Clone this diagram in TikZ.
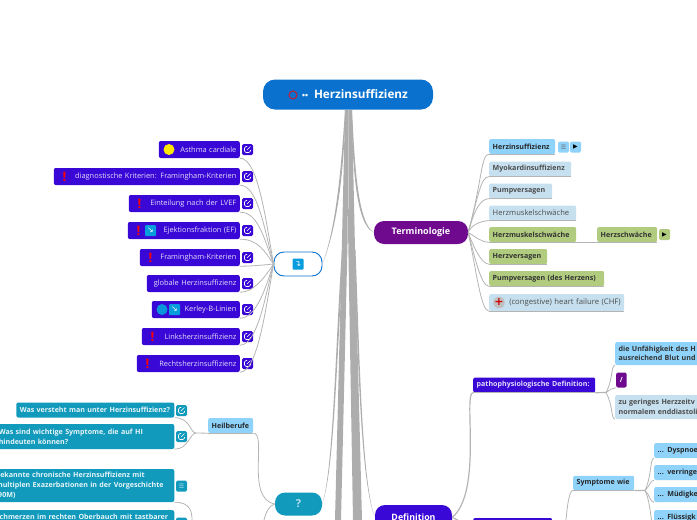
\documentclass[tikz,border=0pt]{standalone}
\usepackage{fontspec}
\setmainfont{Open Sans}
\newfontfamily\symfont{DejaVu Sans}
\definecolor{rootblue}{HTML}{0A72CE}
\definecolor{deepblue}{HTML}{3A08D6}
\definecolor{plum}{HTML}{6F0A8F}
\definecolor{teal}{HTML}{129ABD}
\definecolor{skyblue}{HTML}{8FD3FB}
\definecolor{paleblue}{HTML}{C7E0EF}
\definecolor{moss}{HTML}{B1CC7F}
\definecolor{twiggrey}{HTML}{B4B4B4}
\definecolor{trunkgrey}{HTML}{ADADAD}
\tikzset{
  head/.style={rounded corners=10pt,inner sep=0pt,minimum height=24pt,font=\fontsize{9}{11}\selectfont\bfseries,text=white},
  kid/.style={rounded corners=2pt,inner xsep=3.5pt,inner ysep=0pt,font=\fontsize{7.1}{9}\selectfont\bfseries,minimum height=15pt},
  blueleaf/.style={kid,fill=deepblue,text=white!85!deepblue,align=right,anchor=east,minimum height=17pt,font=\fontsize{7.4}{9}\selectfont},
  tealleaf/.style={kid,fill=teal,text=white!90!teal,align=left,anchor=east,font=\fontsize{7.1}{10}\selectfont\bfseries},
  skyleaf/.style={kid,fill=skyblue,text=black!85,align=left,anchor=west},
  paleleaf/.style={kid,fill=paleblue,text=black!70,align=left,anchor=west},
  greenleaf/.style={kid,fill=moss,text=black!80,align=left,anchor=west},
  alert/.style={text=red,inner sep=0pt,font=\fontsize{13}{13}\selectfont\bfseries},
  tile/.style={fill=rootblue!70!cyan,rounded corners=1pt,minimum size=11pt,inner sep=0pt,text=white,font=\symfont\fontsize{8}{8}\selectfont},
  badge/.style={rounded corners=1.5pt,minimum size=11pt,inner sep=0pt,font=\symfont\fontsize{6}{6}\selectfont},
  linkbox/.style={badge,fill=#1,path picture={
    \draw[white,line width=.6pt] ([shift={(3pt,-.5pt)}]path picture bounding box.center) -- ++(0pt,-2.5pt) -- ++(-6pt,0pt) -- ++(0pt,6pt) -- ++(2.5pt,0pt);
    \draw[white,line width=.6pt] ([shift={(-.5pt,-.5pt)}]path picture bounding box.center) -- ++(3.5pt,3.5pt);}},
  twig/.style={draw=twiggrey,line width=.8pt},
  trunk/.style={fill=trunkgrey}
}
\begin{document}
\begin{tikzpicture}[x=1pt,y=-1pt]
\useasboundingbox (0,0) rectangle (697,520);
\clip (0,0) rectangle (697,520);
% main nodes
\draw (348,94.5) node[head,fill=rootblue,text width=170pt,align=left,minimum height=30pt,rounded corners=12pt,font=\fontsize{11.7}{13}\selectfont\bfseries] (root) {\hspace*{39pt}\makebox[12pt][l]{\fontsize{8}{8}\selectfont ••}Herzinsuffizienz};
\draw (293,95) node[circle,draw=red!70!rootblue,line width=1.1pt,minimum size=8pt,inner sep=0pt] (rootRing) {};
\draw (298,264) node[head,fill=white,draw=rootblue,line width=.9pt,minimum width=48pt] (refs) {};
\draw (298,264) node[tile] (refsIcon) {↴};
\draw (421,232.5) node[head,fill=plum,minimum width=94pt,minimum height=23pt] (termi) {Terminologie};
\draw (298.5,504) node[head,fill=teal,minimum width=47pt,minimum height=23pt,text=white!70!teal,font=\fontsize{11}{12}\selectfont\bfseries] (quest) {?};
\draw (413.5,517.5) node[head,fill=deepblue,minimum width=77pt,minimum height=25pt,font=\fontsize{8.8}{10}\selectfont\bfseries] (defin) {Definition};
% trunk
\coordinate (trunkA) at (335,520);
\coordinate (trunkB) at (341,520);
\coordinate (trunkC) at (353,520);
\coordinate (trunkD) at (362,520);
\fill[trunk] (345,110) -- (342,240) -- (trunkA) -- (trunkB) -- (347.6,240) -- (348.4,110) -- cycle;
\fill[trunk] (348.4,110) -- (348.2,240) -- (trunkC) -- (trunkD) -- (354.8,240) -- (352,110) -- cycle;
\fill[trunk] (345.5,110) .. controls (344,170) and (338,225) .. (refs.east) .. controls (336.5,225) and (341,170) .. (345,110) -- cycle;
\fill[trunk] (351,110) .. controls (353,170) and (356,225) .. (termi.west) .. controls (358,222) and (355,170) .. (352,110) -- cycle;
\fill[trunk] (344,250) .. controls (337,340) and (335,470) .. (quest.east) .. controls (333.5,470) and (335.5,340) .. (342,250) -- cycle;
\fill[trunk] (354,250) .. controls (358,350) and (360,480) .. (defin.west) .. controls (361.5,480) and (359.5,350) .. (355.5,250) -- cycle;
% left group
\draw (240,149.5) node[blueleaf,text width=74pt] (asthma) {Asthma cardiale};
\draw (240,176.5) node[blueleaf,text width=179pt] (diagn) {diagnostische Kriterien: Framingham-Kriterien};
\draw (240,203.5) node[blueleaf,text width=104pt] (lvef) {Einteilung nach der LVEF};
\draw (240,230.5) node[blueleaf,text width=105pt] (ejekt) {Ejektionsfraktion (EF)};
\draw (240,257.5) node[blueleaf,text width=93pt] (fram) {Framingham-Kriterien};
\draw (240,283.5) node[blueleaf,text width=86pt] (globale) {globale Herzinsuffizienz};
\draw (240,309.5) node[blueleaf,text width=81pt] (kerley) {Kerley-B-Linien};
\draw (240,336.5) node[blueleaf,text width=91pt] (links) {Linksherzinsuffizienz};
\draw (240,363.5) node[blueleaf,text width=96pt] (rechts) {Rechtsherzinsuffizienz};
\draw (169,149.5) node[circle,fill=yellow!90!orange,minimum size=11pt,inner sep=0pt] (asthmaDot) {};
\draw (64.5,176.5) node[alert] (diagnMark) {!};
\draw (139.5,203.5) node[alert] (lvefMark) {!};
\draw (138.5,230.5) node[alert] (ejektMark) {!};
\draw (150.5,230.5) node[tile] (ejektIcon) {↘};
\draw (150.5,257.5) node[alert] (framMark) {!};
\draw (162,309.5) node[circle,fill=rootblue!75!cyan,minimum size=11pt,inner sep=0pt] (kerleyDot) {};
\draw (174.5,309.5) node[tile] (kerleyIcon) {↘};
\draw (152.5,336.5) node[alert] (linksMark) {!};
\draw (147.5,363.5) node[alert] (rechtsMark) {!};
\draw (247.5,149.5) node[linkbox=deepblue] (asthmaLink) {};
\draw (247.5,176.5) node[linkbox=deepblue] (diagnLink) {};
\draw (247.5,203.5) node[linkbox=deepblue] (lvefLink) {};
\draw (247.5,230.5) node[linkbox=deepblue] (ejektLink) {};
\draw (247.5,257.5) node[linkbox=deepblue] (framLink) {};
\draw (247.5,283.5) node[linkbox=deepblue] (globaleLink) {};
\draw (247.5,309.5) node[linkbox=deepblue] (kerleyLink) {};
\draw (247.5,336.5) node[linkbox=deepblue] (linksLink) {};
\draw (247.5,363.5) node[linkbox=deepblue] (rechtsLink) {};
\path[-] (asthma.south east) edge [twig,out=0,in=100,out distance=18pt,in distance=45pt] (refs.west);
\path[-] (diagn.south east) edge [twig,out=0,in=105,out distance=18pt,in distance=35pt] (refs.west);
\path[-] (lvef.south east) edge [twig,out=0,in=110,out distance=18pt,in distance=28pt] (refs.west);
\path[-] (ejekt.south east) edge [twig,out=0,in=125,out distance=18pt,in distance=16pt] (refs.west);
\path[-] (fram.south east) edge [twig,out=0,in=185,out distance=14pt,in distance=8pt] (refs.west);
\path[-] (globale.south east) edge [twig,out=0,in=235,out distance=16pt,in distance=10pt] (refs.west);
\path[-] (kerley.south east) edge [twig,out=0,in=250,out distance=18pt,in distance=18pt] (refs.west);
\path[-] (links.south east) edge [twig,out=0,in=255,out distance=18pt,in distance=28pt] (refs.west);
\path[-] (rechts.south east) edge [twig,out=0,in=260,out distance=18pt,in distance=40pt] (refs.west);
% terminologie group
\draw (489,146.5) node[skyleaf,text width=59pt] (herz) {Herzinsuffizienz};
\draw (563.5,147) node[badge,fill=skyblue,text=black!60] (herzNote) {☰};
\draw (575.5,147) node[badge,fill=skyblue] (herzPlay) {▶};
\draw (489,169) node[paleleaf,text width=75pt] (myo) {Myokardinsuffizienz};
\draw (489,191) node[paleleaf,text width=56pt] (pump) {Pumpversagen};
\draw (489,213) node[paleleaf,text width=80pt,font=\fontsize{7.6}{9}\selectfont] (muskel) {Herzmuskelschwäche};
\draw (489,234.5) node[greenleaf,text width=80pt] (muskelGreen) {Herzmuskelschwäche};
\draw (597,234.5) node[greenleaf,text width=53pt] (schwaeche) {Herzschwäche};
\draw (664.5,234.5) node[badge,fill=moss] (schwaechePlay) {▶};
\draw (489,256.5) node[greenleaf,text width=51pt] (versagen) {Herzversagen};
\draw (489,278.5) node[greenleaf,text width=108pt] (pumpHerz) {Pumpversagen (des Herzens)};
\draw (489,302.5) node[paleleaf,minimum height=17pt,font=\fontsize{7.7}{9}\selectfont,text width=128pt,align=right] (chf) {(congestive) heart failure (CHF)};
\draw (499,302.5) node[circle,fill=black!25,minimum size=11pt,inner sep=0pt,text=red!80!black,font=\symfont\fontsize{11}{11}\selectfont\bfseries] (chfIcon) {+};
\path[-] (termi.east) edge [twig,out=75,in=180,out distance=55pt,in distance=8pt] (herz.south west);
\path[-] (termi.east) edge [twig,out=75,in=180,out distance=40pt,in distance=8pt] (myo.south west);
\path[-] (termi.east) edge [twig,out=75,in=180,out distance=25pt,in distance=8pt] (pump.south west);
\path[-] (termi.east) edge [twig,out=70,in=180,out distance=8pt,in distance=8pt] (muskel.south west);
\path[-] (termi.east) edge [twig,out=-30,in=180,out distance=8pt,in distance=8pt] (muskelGreen.south west);
\path[-] (termi.east) edge [twig,out=-70,in=180,out distance=12pt,in distance=8pt] (versagen.south west);
\path[-] (termi.east) edge [twig,out=-75,in=180,out distance=25pt,in distance=8pt] (pumpHerz.south west);
\path[-] (termi.east) edge [twig,out=-78,in=180,out distance=40pt,in distance=8pt] (chf.south west);
\path[-] (muskelGreen.south east) edge [twig] (schwaeche.south west);
\foreach \kid in {herz,myo,pump,muskel,muskelGreen,schwaeche,versagen,pumpHerz,chf}
  \path[-] (\kid.south west) edge [twig] (\kid.south east);
% question group
\draw (208,425.5) node[skyleaf,text width=38pt] (heil) {Heilberufe};
\draw (174.5,410) node[tealleaf,text width=151pt] (wasHeisst) {Was versteht man unter Herzinsuffizienz?};
\draw (174.5,436.5) node[tealleaf,text width=172pt,minimum height=25pt] (wasSympt) {Was sind wichtige Symptome, die auf HI\\hindeuten können?};
\draw (174.5,485.5) node[tealleaf,text width=175pt,minimum height=33pt] (bekannt) {bekannte chronische Herzinsuffizienz mit\\multiplen Exazerbationen in der Vorgeschichte\\(90M)};
\draw (174.5,510) node[tealleaf,text width=175pt,minimum height=14pt,inner ysep=3pt,anchor=north east] (schmerz) {Schmerzen im rechten Oberbauch mit tastbarer};
\draw (181.5,410.5) node[linkbox=teal] (wasHeisstLink) {};
\draw (181.5,436.5) node[linkbox=teal] (wasSymptLink) {};
\draw (181.5,486) node[badge,fill=teal,text=white!70!teal] (bekanntNote) {☰};
\draw (181.5,523) node[badge,fill=teal,text=white!70!teal] (schmerzNote) {☰};
\coordinate (heilKnee) at (196,433);
\coordinate (questEnd) at (264,520);
\coordinate (bekanntEnd) at (192,520);
\path[-] (wasHeisst.south east) edge [twig,out=0,in=180,out distance=16pt,in distance=6pt] (heilKnee);
\path[-] (wasSympt.south east) edge [twig,out=0,in=180,out distance=14pt,in distance=6pt] (heilKnee);
\path[-] (heilKnee) edge [twig] (heil.south west);
\path[-] (heil.south west) edge [twig] (heil.south east);
\path[-] (heil.south east) edge [twig,out=0,in=170,out distance=14pt,in distance=30pt] (quest.west);
\path[-] (quest.west) edge [twig,out=195,in=75,out distance=6pt,in distance=8pt] (questEnd);
\path[-] (bekannt.south east) edge [twig,out=0,in=90,out distance=16pt,in distance=8pt] (bekanntEnd);
% definition group
\draw (473,385) node[kid,fill=deepblue,text=white!85!deepblue,anchor=west,text width=115pt,align=left] (patho) {pathophysiologische Definition:};
\draw (473,526) node[kid,fill=deepblue,anchor=west,minimum width=79pt,minimum height=16pt] (sympHead) {};
\draw (615,353.5) node[kid,fill=skyblue,text=black!80,anchor=west,minimum height=23pt,text width=105pt,align=left,font=\fontsize{7.1}{9.4}\selectfont\bfseries] (unfaehig) {die Unfähigkeit des H\\ausreichend Blut und};
\draw (616,380) node[kid,fill=plum,text=white,anchor=west,minimum width=10.5pt,inner xsep=0pt] (slash) {/};
\draw (615,407) node[kid,fill=paleblue,text=black!70,anchor=west,minimum height=24pt,text width=105pt,align=left,font=\fontsize{7.1}{9.4}\selectfont\bfseries] (gering) {zu geringes Herzzeitv\\normalem enddiastoli};
\draw (573,483) node[skyleaf,text width=54pt,minimum height=14.5pt] (sympt) {Symptome wie};
\draw (654,450.5) node[skyleaf,text width=53pt] (dysp) {... Dyspnoe};
\draw (654,472.5) node[skyleaf,text width=53pt] (verr) {... verringe};
\draw (654,494.5) node[skyleaf,text width=53pt] (muede) {... Müdigke};
\draw (654,517.5) node[skyleaf,text width=53pt] (fluess) {... Flüssigk};
\coordinate (pathoKnee) at (606,392.5);
\coordinate (symptKnee) at (645,490.5);
\coordinate (symptEnd) at (566,520);
\path[-] (defin.east) edge [twig,line width=1.2pt,out=40,in=180,out distance=40pt,in distance=10pt] (patho.south west);
\path[-] (defin.east) edge [twig,line width=1.2pt,out=-20,in=180,out distance=8pt,in distance=8pt] (sympHead.west);
\path[-] (patho.south west) edge [twig] (patho.south east);
\path[-] (patho.south east) edge [twig,line width=1.2pt] (pathoKnee);
\path[-] (pathoKnee) edge [twig,out=60,in=180,out distance=14pt,in distance=4pt] (unfaehig.south west);
\path[-] (pathoKnee) edge [twig,out=30,in=180,out distance=5pt,in distance=4pt] (slash.south west);
\path[-] (pathoKnee) edge [twig,out=-60,in=180,out distance=14pt,in distance=4pt] (gering.south west);
\path[-] (sympt.south west) edge [twig] (sympt.south east);
\path[-] (sympt.south east) edge [twig,line width=1.2pt] (symptKnee);
\path[-] (sympt.south west) edge [twig,out=180,in=85,out distance=4pt,in distance=12pt] (symptEnd);
\path[-] (symptKnee) edge [twig,out=65,in=180,out distance=16pt,in distance=4pt] (dysp.south west);
\path[-] (symptKnee) edge [twig,out=40,in=180,out distance=6pt,in distance=4pt] (verr.south west);
\path[-] (symptKnee) edge [twig,out=-40,in=180,out distance=6pt,in distance=4pt] (muede.south west);
\path[-] (symptKnee) edge [twig,out=-65,in=180,out distance=16pt,in distance=4pt] (fluess.south west);
\end{tikzpicture}
\end{document}
